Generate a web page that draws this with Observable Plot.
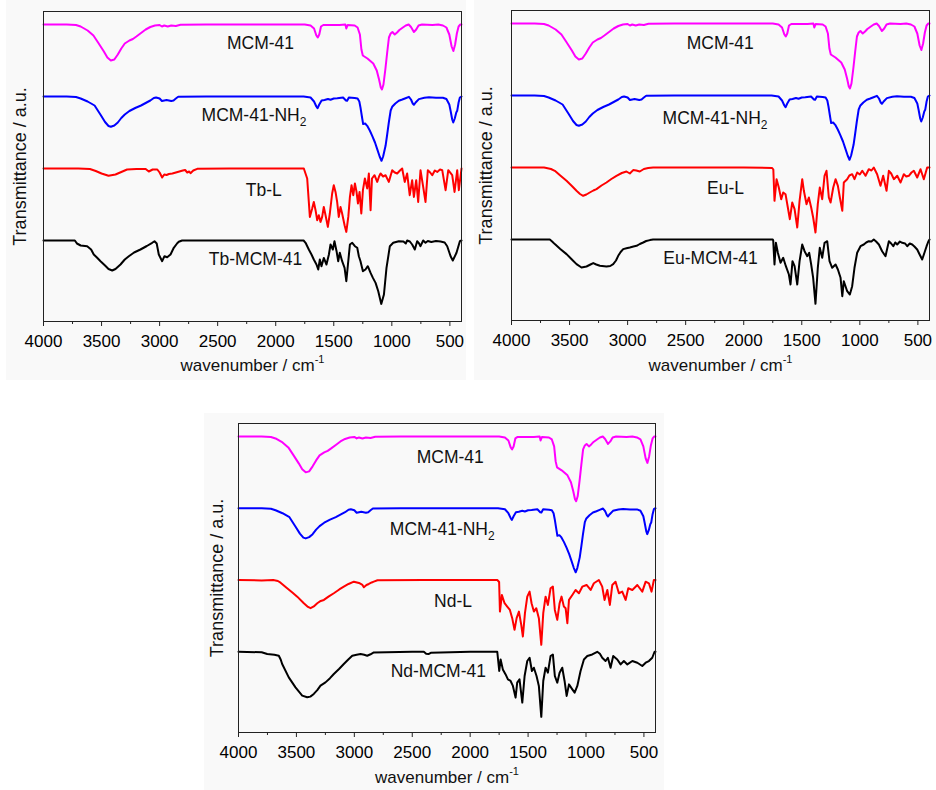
<!DOCTYPE html>
<html>
<head>
<meta charset="utf-8">
<script src="https://cdn.jsdelivr.net/npm/d3@7"></script>
<script src="https://cdn.jsdelivr.net/npm/@observablehq/plot@0.6"></script>
<style>
  html, body { margin: 0; padding: 0; background: #fff; }
  #chart { position: relative; width: 936px; height: 790px; overflow: hidden; }
  #chart svg { position: absolute; }
</style>
</head>
<body>
<div id="chart"></div>
<script>
// ---------- data (wavenumber cm-1, relative transmittance, a.u.) ----------
const majorTicks = [4000, 3500, 3000, 2500, 2000, 1500, 1000, 500];
const minorTicks = [3750, 3250, 2750, 2250, 1750, 1250, 750];
const baselineOffsets = [297, 225, 153, 81];
const seriesColors = ["#ff00ff", "#0000ff", "#ff0000", "#000000"];

const MCM41 = [[4000,0],[3800,0],[3720,-0.5],[3680,-2],[3620,-6],[3570,-11],[3530,-18],[3480,-27],[3450,-33],[3420,-36],[3390,-35],[3360,-30],[3330,-24],[3300,-19],[3260,-16],[3230,-14.5],[3200,-12],[3160,-8.5],[3120,-5],[3080,-2.5],[3040,-1],[3000,-0.5],[2980,-2],[2960,-1],[2930,-2],[2900,-1],[2860,-1.5],[2820,-0.3],[2600,0],[2000,0],[1750,0],[1700,-1],[1670,-4],[1650,-11],[1638,-13],[1625,-10],[1610,-2],[1590,-0.5],[1450,-0.5],[1400,0],[1392,-4],[1380,-0.5],[1320,-1],[1295,-3],[1275,-10],[1262,-25],[1250,-31],[1230,-32.5],[1210,-34],[1185,-36.5],[1160,-39],[1130,-46],[1110,-55],[1095,-63],[1085,-65],[1072,-60],[1055,-44],[1040,-28],[1025,-13],[1010,-9],[995,-7.5],[975,-10],[955,-8],[935,-5.5],[905,-3],[880,-1],[855,0],[835,-2.5],[810,-7.5],[790,-5],[770,-1],[740,0],[650,-0.5],[600,0],[560,-1],[530,-3],[505,-10],[485,-22],[470,-26.5],[455,-20],[440,-9],[425,-2],[410,0],[400,0]];

const MCM41_NH2 = [[4000,0],[3800,0],[3720,-0.5],[3680,-2],[3620,-5],[3560,-9],[3510,-18],[3470,-25.5],[3440,-29.5],[3420,-30.3],[3390,-29],[3360,-26],[3330,-21.5],[3300,-18],[3260,-14.5],[3210,-11.5],[3160,-9],[3120,-6.5],[3080,-4],[3050,-1.5],[3030,-1],[3000,-2],[2980,-4.5],[2960,-4],[2940,-3.5],[2920,-4],[2900,-4.5],[2880,-4],[2860,-2],[2840,-0.3],[2600,0],[2000,0],[1760,0],[1700,-1],[1670,-5],[1650,-10],[1640,-11.7],[1625,-8],[1605,-4],[1580,-3.5],[1550,-2.5],[1528,-3.3],[1500,-2],[1470,-1.7],[1420,-1],[1395,-4],[1385,-4.3],[1370,-1],[1320,-1.5],[1295,-2],[1280,-5],[1270,-11],[1255,-22],[1247,-27.6],[1230,-27],[1212,-29.3],[1190,-34],[1169,-39.3],[1145,-46],[1126,-52.6],[1105,-60],[1089,-64.3],[1075,-60],[1054,-49.3],[1040,-38],[1026,-26],[1010,-14],[997,-10.3],[970,-7],[940,-4.3],[910,-3],[882,-1.7],[853,-0.3],[835,-3],[820,-7],[810,-8.3],[795,-6],[767,-2.6],[720,-1.2],[680,-0.8],[620,-1.3],[560,-1.2],[530,-2.5],[505,-8],[494,-14.3],[480,-23],[471,-26],[458,-22],[445,-16],[437,-14.3],[425,-6],[414,-1],[400,0]];

const TbL = [[4000,0],[3700,0],[3600,-0.5],[3550,-2.5],[3500,-5],[3440,-7.3],[3380,-6],[3320,-3],[3280,-1],[3200,-0.5],[3120,-0.5],[3093,-3],[3060,-1],[3020,-1],[3000,-4],[2978,-9],[2960,-6],[2940,-6.5],[2920,-5.5],[2890,-5],[2860,-4],[2830,-3],[2800,-2],[2780,-1.5],[2762,-4],[2745,-3],[2734,-4.7],[2710,-2],[2676,-0.3],[2400,0],[2000,0],[1800,0],[1758,0],[1729,-10],[1706,-48.4],[1686,-40],[1672,-33.4],[1657,-41.7],[1643,-51.7],[1629,-46.7],[1614,-53.4],[1600,-48.4],[1586,-38.4],[1571,-46.7],[1551,-58.4],[1534,-45],[1514,-25],[1500,-16.7],[1485,-23.4],[1471,-33.4],[1457,-48.4],[1442,-38.4],[1428,-45],[1407,-56.7],[1392,-63.4],[1375,-48.4],[1361,-28.4],[1347,-16.7],[1332,-26.7],[1318,-15],[1304,-23.4],[1292,-35],[1278,-23.4],[1263,-45],[1249,-21.7],[1232,-10],[1212,-20],[1198,-5],[1183,-41.7],[1171,-10],[1149,-6.7],[1126,-13.4],[1110,-8],[1097,-5],[1075,-8],[1054,-6.7],[1026,-13.4],[997,-1.7],[975,-4],[954,-5],[930,-2],[911,0],[889,-13.4],[868,-5],[846,-26.7],[825,-11.7],[810,-28.4],[790,-11.7],[773,-33.4],[753,-1.7],[730,-18.4],[710,-33.4],[690,-1.7],[670,-4],[652,-6.7],[630,-2],[609,-3.4],[585,-1],[566,-1.7],[537,-21.7],[514,-1.7],[480,-6.7],[460,-23.4],[437,-1.7],[423,-21.7],[400,0]];

const TbMCM41 = [[4000,0],[3730,0],[3712,-3],[3680,-5],[3624,-5.7],[3590,-9],[3567,-14],[3540,-17],[3509,-20.7],[3470,-25],[3440,-28.5],[3408,-30],[3380,-28.5],[3337,-24],[3300,-19],[3265,-15.7],[3220,-12],[3165,-9],[3110,-5.5],[3064,-2.3],[3044,-0.7],[3025,-3],[3007,-14],[2990,-18],[2978,-20.7],[2958,-15.7],[2935,-16.7],[2906,-14],[2878,-7.3],[2850,-3],[2835,-1.3],[2806,0],[2000,0],[1760,0],[1743,-2.3],[1715,-9],[1692,-14],[1672,-19],[1649,-24],[1634,-29],[1620,-19],[1606,-25.7],[1586,-17.4],[1563,-24],[1542,-14],[1528,-4],[1508,-9],[1494,-0.7],[1476,-10.7],[1462,-20.7],[1448,-12.3],[1428,-20.7],[1407,-27.4],[1392,-40.7],[1378,-24],[1361,-4],[1341,-2.3],[1318,-5.7],[1298,-7.3],[1284,-15.7],[1270,-20.7],[1249,-30.7],[1227,-29],[1207,-25.7],[1183,-32.4],[1163,-37.4],[1140,-42.4],[1117,-50.7],[1091,-63.4],[1068,-54],[1046,-27.4],[1017,-5.7],[988,-2.3],[940,-0.7],[900,-1],[880,-3],[868,0],[845,-1],[825,-4],[802,-9],[782,-0.7],[765,-3],[753,-5.7],[730,0],[710,-2.3],[690,-0.5],[660,-1.5],[620,-0.5],[580,-1],[545,-2],[523,-5.7],[494,-15.7],[475,-20],[443,-12.3],[414,-0.7],[400,0]];

const EuL = [[4000,0],[3720,0],[3699,-0.5],[3660,-1.5],[3627,-3.3],[3580,-8],[3526,-13.3],[3480,-18.5],[3440,-23.3],[3410,-26.5],[3383,-28.3],[3355,-27],[3326,-25],[3295,-23],[3268,-21.6],[3225,-18],[3182,-15],[3140,-11.5],[3096,-8.3],[3050,-5.5],[3010,-4],[2981,-6],[2952,-2.6],[2925,-3],[2895,-4],[2860,-1.5],[2823,-0.6],[2780,0],[2000,0],[1755,-0.5],[1745,-2],[1735,-33.3],[1717,-11.7],[1698,-20],[1677,-31.7],[1660,-25],[1640,-26.7],[1620,-40],[1603,-51.7],[1582,-35],[1562,-41.7],[1539,-60],[1519,-33.3],[1496,-11.7],[1482,-23.3],[1459,-36.7],[1439,-30],[1419,-40],[1402,-50],[1382,-65],[1362,-36.7],[1345,-20],[1324,-31.7],[1304,-8.3],[1287,-3.3],[1267,-30],[1252,-35],[1229,-20],[1209,-11.7],[1189,-18.3],[1172,-30],[1151,-43.3],[1138,-15],[1109,-11.7],[1090,-8],[1066,-6.7],[1046,-11.7],[1023,-5],[1000,-7],[979,-3.3],[951,-8.3],[923,-1.7],[900,-3],[880,0],[851,-6.7],[822,-18.3],[799,-8.3],[770,-23.3],[750,-3.3],[730,-6],[707,-11.7],[678,-8.3],[649,-15],[621,-6.7],[600,-9],[578,-8.3],[555,-5],[535,-3.3],[506,-10],[477,-1.7],[449,-11.7],[420,0],[400,0]];

const EuMCM41 = [[4000,0],[3670,0],[3650,-2],[3627,-4.6],[3580,-9.5],[3526,-14.6],[3480,-20],[3440,-24.6],[3397,-28],[3354,-27],[3320,-25],[3296,-23.6],[3270,-25],[3239,-26.3],[3182,-27],[3150,-26.5],[3124,-24.6],[3100,-21],[3081,-16.3],[3060,-12.5],[3038,-9.6],[3010,-8.8],[2981,-8],[2950,-7],[2923,-6.3],[2895,-4.5],[2866,-3],[2840,-1.5],[2808,-0.6],[2780,0],[2000,0],[1750,0],[1746,-1],[1735,-25],[1723,-3.3],[1706,-13.3],[1683,-23.3],[1660,-18.3],[1637,-26.7],[1611,-35],[1597,-45],[1580,-21.7],[1562,-26.7],[1539,-45],[1519,-21.7],[1496,-5],[1476,-11.7],[1453,-16.7],[1436,-13.3],[1419,-25],[1402,-38.3],[1382,-64.3],[1362,-28.3],[1345,-8.3],[1324,-18.3],[1304,-3.3],[1281,-1.7],[1261,-21.7],[1238,-28.3],[1209,-25],[1189,-30],[1166,-38.3],[1151,-56.7],[1138,-41.7],[1109,-51.7],[1086,-55],[1066,-46.7],[1046,-28.3],[1023,-13.3],[994,-6.7],[966,-5],[945,-3],[923,-1.7],[900,-2],[880,0],[860,-2],[836,-5],[808,-11.7],[779,-16.7],[750,-1.7],[730,-4],[712,-6.7],[695,-3],[678,-5],[655,-2],[635,-3.3],[610,-4],[592,-6.7],[570,-4],[549,-5],[530,-7],[506,-10],[485,-15],[463,-20],[440,-12],[425,-6.7],[410,-2],[400,0]];

const NdL = [[4000,0],[3800,-0.5],[3700,0],[3660,-1],[3637,-2.7],[3580,-8.3],[3530,-13],[3493,-16.7],[3436,-23.3],[3400,-27],[3378,-28.3],[3350,-26.5],[3320,-23.3],[3290,-21],[3263,-20],[3220,-16.5],[3177,-13.3],[3130,-9.5],[3091,-6.7],[3050,-4],[3004,-1.7],[2960,-3],[2930,-5],[2918,-7.3],[2895,-5],[2875,-4],[2850,-2.5],[2832,-1.7],[2800,-0.3],[2400,0],[2000,0],[1766,0],[1750,-2],[1743,-31.7],[1726,-15],[1703,-23.3],[1680,-26.7],[1657,-30],[1637,-38.3],[1617,-50],[1599,-38.3],[1579,-31.7],[1559,-45],[1545,-56.7],[1527,-33.3],[1507,-16.7],[1487,-11.7],[1470,-23.3],[1450,-31.7],[1429,-28.3],[1407,-38.3],[1386,-65],[1369,-33.3],[1349,-16.7],[1329,-25],[1306,-8.3],[1286,-6.7],[1269,-30],[1248,-40],[1228,-23.3],[1211,-16.7],[1191,-26.7],[1176,-28.3],[1161,-43.3],[1147,-20],[1118,-15],[1090,-10],[1061,-13.3],[1032,-6.7],[995,-5],[960,-10],[932,-3.3],[889,0],[860,-6.7],[840,-20],[816,-10],[794,-25],[773,-5],[745,-1.7],[716,-13.3],[687,-11.7],[658,-20],[635,-8.3],[600,-10],[557,-5],[514,-11.7],[485,-1.7],[457,-3.3],[434,-11.7],[414,0],[400,0]];

const NdMCM41 = [[4000,0],[3800,-0.5],[3752,-2.3],[3690,-3],[3652,-4],[3635,-8],[3623,-12.3],[3566,-25.7],[3508,-35.7],[3450,-44],[3407,-45.7],[3380,-45],[3350,-42.3],[3320,-38.5],[3292,-34],[3249,-30.7],[3210,-26.5],[3177,-22.3],[3130,-17],[3091,-12.3],[3050,-7.5],[3018,-4],[2980,-3],[2946,-2.3],[2915,-3],[2889,-4],[2860,-2.5],[2832,-0.7],[2500,0],[2400,0],[2380,-2],[2360,-2.3],[2340,-1],[2000,0],[1766,0],[1749,-19.3],[1737,-7.7],[1718,-17.7],[1694,-22.7],[1674,-27.7],[1651,-29.3],[1631,-34.3],[1608,-46],[1594,-31],[1574,-27.7],[1550,-51],[1530,-24.3],[1507,-9.3],[1487,-6],[1467,-19.3],[1450,-16],[1427,-24.3],[1407,-34.3],[1386,-65.3],[1369,-29.3],[1349,-16],[1329,-21],[1306,-4.3],[1286,-2.7],[1269,-24.3],[1248,-31],[1228,-21],[1205,-16],[1185,-29.3],[1167,-44.3],[1147,-32.7],[1118,-37.7],[1098,-41],[1075,-34.3],[1047,-19.3],[1018,-7.7],[989,-4.3],[946,-2.7],[903,0],[880,-2],[860,-6],[831,-9.3],[811,-6],[788,-16],[765,-4.3],[730,-7.7],[701,-12.7],[673,-9.3],[643,-12.7],[600,-9.3],[557,-11],[514,-14.3],[485,-11],[457,-9.3],[428,-6],[408,0],[400,0]];

// curve labels: [text, wavenumber, transmittance]
const labelsTb = [["MCM-41", 2131, 278], ["MCM-41-NH2", 2187, 206], ["Tb-L", 2103, 131], ["Tb-MCM-41", 2174, 62]];
const labelsEu = [["MCM-41", 2202, 277], ["MCM-41-NH2", 2247, 202], ["Eu-L", 2157, 132], ["Eu-MCM-41", 2286, 62]];
const labelsNd = [["MCM-41", 2172, 276], ["MCM-41-NH2", 2241, 204], ["Nd-L", 2148, 132], ["Nd-MCM-41", 2275, 61]];

const xLabel = "wavenumber / cm-1";
const yLabel = "Transmittance / a.u.";

// ---------- drawing ----------
const FONT = "'Liberation Sans', Arial, Helvetica, sans-serif";

function toRows(arr, offset) {
  return arr.map(([w, t]) => ({w, y: offset + t}));
}

function makePanel(spectra, labels, geom) {
  const lineMarks = spectra.map((s, i) =>
    Plot.line(toRows(s, baselineOffsets[i]), {x: "w", y: "y", stroke: seriesColors[i], strokeWidth: 2})
  );
  const svg = Plot.plot({
    width: geom.width,
    height: geom.height,
    marginLeft: geom.ml,
    marginRight: geom.mr,
    marginTop: geom.mt,
    marginBottom: geom.mb,
    x: {domain: [4000, 400]},
    y: {domain: [0, 310], axis: null},
    style: {background: "#f9f9f9", fontFamily: FONT, fontSize: "17px", color: "#000", overflow: "visible"},
    marks: [
      ...lineMarks,
      Plot.frame({stroke: "#222", strokeWidth: 1}),
      Plot.axisX({ticks: majorTicks, tickSize: 5, tickPadding: 8, tickFormat: d3.format("d"), label: null, fontSize: 17, stroke: "#222"}),
      Plot.axisX({ticks: minorTicks, tickSize: 3, tickFormat: () => "", label: null, stroke: "#222"}),
      Plot.text(labels, {x: d => d[1], y: d => d[2], text: d => d[0], fontSize: 17.5, fill: "#111"}),
      Plot.text([xLabel], {text: d => d, frameAnchor: "bottom", textAnchor: "middle", dy: geom.xdy, fontSize: 17, fill: "#111"}),
      Plot.text([yLabel], {text: d => d, frameAnchor: "left", textAnchor: "middle", rotate: -90, dx: geom.ydx, fontSize: 18, fill: "#111"})
    ]
  });
  svg.style.left = geom.left + "px";
  svg.style.top = geom.top + "px";
  // subscripts / superscripts
  d3.select(svg).selectAll("text").each(function () {
    const t = this.textContent;
    const sel = d3.select(this);
    if (t === "MCM-41-NH2") {
      sel.text(null);
      sel.append("tspan").text("MCM-41-NH");
      sel.append("tspan").attr("font-size", 12).attr("dy", 5).text("2");
    } else if (t === xLabel) {
      sel.text(null);
      sel.append("tspan").text("wavenumber / cm");
      sel.append("tspan").attr("font-size", 11).attr("dy", -8).text("-1");
    }
  });
  return svg;
}

const chart = document.getElementById("chart");
chart.appendChild(makePanel([MCM41, MCM41_NH2, TbL, TbMCM41], labelsTb,
  {left: 6, top: 0, width: 460, height: 380, ml: 37, mr: 5, mt: 11, mb: 59, xdy: 49, ydx: -23}));
chart.appendChild(makePanel([MCM41, MCM41_NH2, EuL, EuMCM41], labelsEu,
  {left: 474, top: 0, width: 462, height: 380, ml: 37, mr: 7, mt: 10, mb: 60, xdy: 50, ydx: -25}));
chart.appendChild(makePanel([MCM41, MCM41_NH2, NdL, NdMCM41], labelsNd,
  {left: 204, top: 413, width: 460, height: 377, ml: 34, mr: 9, mt: 10, mb: 58, xdy: 50, ydx: -21}));
</script>
</body>
</html>
